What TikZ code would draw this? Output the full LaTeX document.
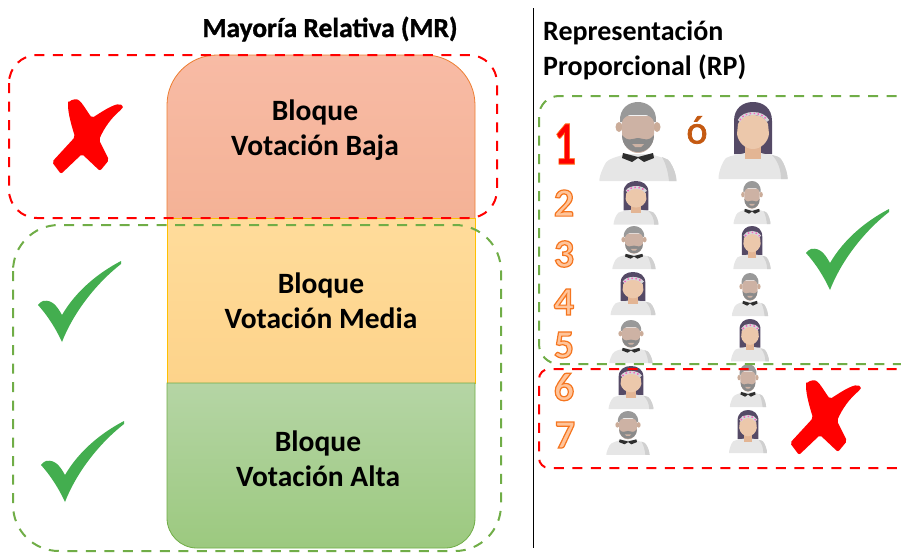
\documentclass[tikz,border=0pt]{standalone}
\usepackage{fontspec}
\setmainfont{Carlito}
\definecolor{dgreen}{HTML}{70AD47}
\definecolor{dred}{HTML}{FF0000}
\definecolor{chk}{HTML}{43AE4F}
\definecolor{hairm}{HTML}{999999}
\definecolor{facem}{HTML}{CDB2A4}
\definecolor{earm}{HTML}{CBAC99}
\definecolor{hairw}{HTML}{554A66}
\definecolor{facew}{HTML}{ECC8AB}
\definecolor{neckw}{HTML}{E3B594}
\definecolor{bodyl}{HTML}{E6E6E6}
\definecolor{bodyd}{HTML}{D0D0D0}
\definecolor{numf}{HTML}{FFC49A}
\definecolor{redtop}{HTML}{F8BBA5}
\definecolor{redbot}{HTML}{F4B296}
\definecolor{redline}{HTML}{ED7D31}
\definecolor{yeltop}{HTML}{FFDC9B}
\definecolor{yelbot}{HTML}{FDD38A}
\definecolor{yelline}{HTML}{FFC000}
\definecolor{grntop}{HTML}{B5D5A5}
\definecolor{grnbot}{HTML}{9CC97F}
\definecolor{otext}{HTML}{C55A11}
\newcommand{\outl}[3]{\special{pdf:code q 2 Tr #1 w #2 RG}#3\special{pdf:code Q}}
\tikzset{
  x=1pt,y=-1pt,
  boxred/.style={draw=dred,line width=2pt,dash pattern=on 10pt off 8.5pt},
  boxgreen/.style={draw=dgreen,line width=2pt,dash pattern=on 10pt off 8.5pt},
  blocklabel/.style={align=center,font=\fontsize{29.5}{35}\selectfont\bfseries},
  headlabel/.style={align=left,font=\fontsize{28}{35}\selectfont\bfseries},
  numlabel/.style={font=\fontsize{40}{40}\selectfont\bfseries,text=numf},
  manfig/.pic={
    \fill[bodyl] (-38.5,79) .. controls (-39,77) and (-38,72) .. (-33,62) .. controls (-30,56) and (-20,55) .. (-13,52) -- (13,52) .. controls (20,55) and (30,56) .. (32,60) .. controls (36,66) and (38.5,74) .. (38.5,79) -- cycle;
    \fill[bodyd] (24,55) .. controls (30,58) and (31,57) .. (32,60) .. controls (36,66) and (38.5,74) .. (38.5,79) -- (31,79) .. controls (30,70) and (28,62) .. (24,55) -- cycle;
    \fill[earm] (-19,25) ellipse (3.5 and 5);
    \fill[earm] (19,25) ellipse (3.5 and 5);
    \fill[facem] (-16,14) -- (16,14) -- (16,32) .. controls (16,44) and (8,51) .. (0,51) .. controls (-8,51) and (-16,44) .. (-16,32) -- cycle;
    \fill[hairm] (-18,20) .. controls (-19,6) and (-9,0) .. (0,0) .. controls (9,0) and (19,6) .. (18,20) -- (16,20) .. controls (15,16) and (12,14) .. (8,13) -- (-8,13) .. controls (-12,14) and (-15,16) .. (-16,20) -- cycle;
    \fill[hairm!90!black] (-16,33) .. controls (-10,40) and (-8,37) .. (0,36) .. controls (8,37) and (10,40) .. (16,33) .. controls (16,44) and (8,50) .. (0,50) .. controls (-8,50) and (-16,44) .. (-16,33) -- cycle;
    \fill[facem] (-6,42) -- (6,42) -- (3,45) -- (-3,45) -- cycle;
    \fill[black!82] (-15,51) -- (0,55) -- (15,51) -- (16,56) -- (6,60) -- (0,56) -- (-6,60) -- (-16,56) -- cycle;
  },
  womanfig/.pic={
    \fill[hairw] (-19,52) -- (-19,19) .. controls (-19,6) and (-10,0) .. (0,0) .. controls (10,0) and (19,6) .. (19,19) -- (19,52) -- cycle;
    \fill[bodyl] (-34.5,77) .. controls (-35,72) and (-31,60) .. (-27,56) .. controls (-22,53) and (-14,53) .. (-8,51) -- (8,51) .. controls (14,53) and (22,53) .. (27,56) .. controls (31,60) and (35,72) .. (34.5,77) -- cycle;
    \fill[bodyd] (19,53) .. controls (24,54) and (26,55) .. (27,56) .. controls (31,60) and (35,72) .. (34.5,77) -- (28,77) .. controls (28,68) and (25,59) .. (19,53) -- cycle;
    \fill[neckw] (-8,40) -- (8,40) -- (8,57) -- (-8,57) -- cycle;
    \fill[facew] (-15,22) .. controls (-12,15) and (-6,13) .. (0,13) .. controls (6,13) and (12,15) .. (15,22) -- (16,32) .. controls (15,40) and (8,47) .. (0,47) .. controls (-8,47) and (-15,40) .. (-16,32) -- cycle;
    \draw[line width=3pt,draw=bodyl!90!hairw] (-14,19) .. controls (-10,9) and (10,9) .. (15,19);
    \draw[line width=1.5pt,draw=magenta!60!white,dash pattern=on 1.5pt off 2.5pt] (-13,18) .. controls (-9,9) and (9,9) .. (14,18);
  },
  checkfig/.pic={
    \fill[chk] (83,0) .. controls (60,12) and (38,30) .. (24,54) .. controls (20,47) and (15,38) .. (5,40) .. controls (3,41) and (1,42) .. (0,44) .. controls (10,55) and (18,68) .. (24,81) .. controls (34,55) and (55,25) .. (83,3) -- cycle;
  },
  crossfig/.pic={
    \fill[dred,rounded corners=2pt] (16,3) .. controls (20,-1) and (25,-1) .. (28,1) .. controls (32,6) and (37,14) .. (40,18) .. controls (48,13) and (58,6) .. (67,4) .. controls (70,5) and (71,7) .. (70,9) .. controls (60,17) and (52,28) .. (47,40) -- (57,60) -- (48,71) -- (30,54) -- (9,74) -- (0,62) -- (23,37) .. controls (20,27) and (16,14) .. (16,3) -- cycle;
  }
}
\begin{document}
\begin{tikzpicture}
\useasboundingbox (0,0) rectangle (901,554);
\clip (0,0) rectangle (901,554);
% left blocks
\path[top color=redtop,bottom color=redbot,draw=redline,line width=0.8pt]
  (167,218) [rounded corners=50pt] -- (167,55) -- (475,55) [sharp corners] -- (475,218);
\path[top color=yeltop,bottom color=yelbot,draw=yelline,line width=0.8pt] (167,218) rectangle (475,383);
\path[top color=grntop,bottom color=grnbot,draw=dgreen,line width=0.8pt]
  (167,383) [rounded corners=30pt] -- (167,548) -- (475,548) [sharp corners] -- (475,383) -- cycle;
\node[blocklabel] (baja) at (315,130.5) {Bloque\\Votación Baja};
\node[blocklabel] (media) at (321,301) {Bloque\\Votación Media};
\node[blocklabel] (alta) at (318,459) {Bloque\\Votación Alta};
\node[font=\fontsize{27.5}{28}\selectfont\bfseries] (mr) at (330,29) {\outl{0.3}{0 0 0}{Mayoría Relativa (MR)}};
\node[headlabel,anchor=west,inner sep=0pt] (rp) at (543,50) {Representación\\Proporcional (RP)};
\draw[black,line width=1pt] (533,8) -- (533,548);
\pic at (38,261) {checkfig};
\pic at (41,421) {checkfig};
\pic at (806,209) {checkfig};
\pic at (52,100) {crossfig};
\pic at (790,381) {crossfig};
% numbers
\node[font=\fontsize{62}{62}\selectfont\bfseries,text=red,xscale=0.72,transform shape] (n1) at (565,144) {\outl{0.8}{1 0.45 0.1}{1}};
\node[numlabel] (n2) at (564,203) {\outl{1.2}{0.96 0.46 0.12}{2}};
\node[numlabel] (n3) at (564,254) {\outl{1.2}{0.96 0.46 0.12}{3}};
\node[numlabel] (n4) at (564,302) {\outl{1.2}{0.96 0.46 0.12}{4}};
\node[numlabel] (n5) at (564,345) {\outl{1.2}{0.96 0.46 0.12}{5}};
\node[numlabel] (n6) at (564,387) {\outl{1.2}{0.96 0.46 0.12}{6}};
\node[numlabel] (n7) at (565,435) {\outl{1.2}{0.96 0.46 0.12}{7}};
\node[text=otext,font=\fontsize{40}{40}\selectfont] (o) at (697,130) {\outl{0.7}{0.77 0.35 0.07}{ó}};
% people
\pic at (638,102) {manfig};
\pic at (753,102) {womanfig};
\pic[xscale=0.65,yscale=0.565] at (636,181) {womanfig};
\pic[xscale=0.48,yscale=0.545] at (752,181) {manfig};
\pic[xscale=0.56,yscale=0.545] at (634,226) {manfig};
\pic[xscale=0.54,yscale=0.56] at (752,226) {womanfig};
\pic[xscale=0.65,yscale=0.56] at (633,272) {womanfig};
\pic[xscale=0.47,yscale=0.545] at (750,273) {manfig};
\pic[xscale=0.56,yscale=0.545] at (631,320) {manfig};
\pic[xscale=0.55,yscale=0.55] at (750,319) {womanfig};
\pic[xscale=0.65,yscale=0.56] at (631,366) {womanfig};
\pic[xscale=0.47,yscale=0.545] at (748,364) {manfig};
\pic[xscale=0.56,yscale=0.555] at (628,411) {manfig};
\pic[xscale=0.55,yscale=0.56] at (748,410) {womanfig};
% dashed groups
\draw[boxred,rounded corners=28pt] (9,55) rectangle (497,218);
\draw[boxgreen,rounded corners=46pt] (13,225) rectangle (501,551);
\draw[boxgreen,rounded corners=20pt] (915,96) -- (539,96) -- (539,364) -- (915,364);
\draw[boxred,rounded corners=10pt] (915,369) -- (539,369) -- (539,468) -- (915,468);
\end{tikzpicture}
\end{document}
